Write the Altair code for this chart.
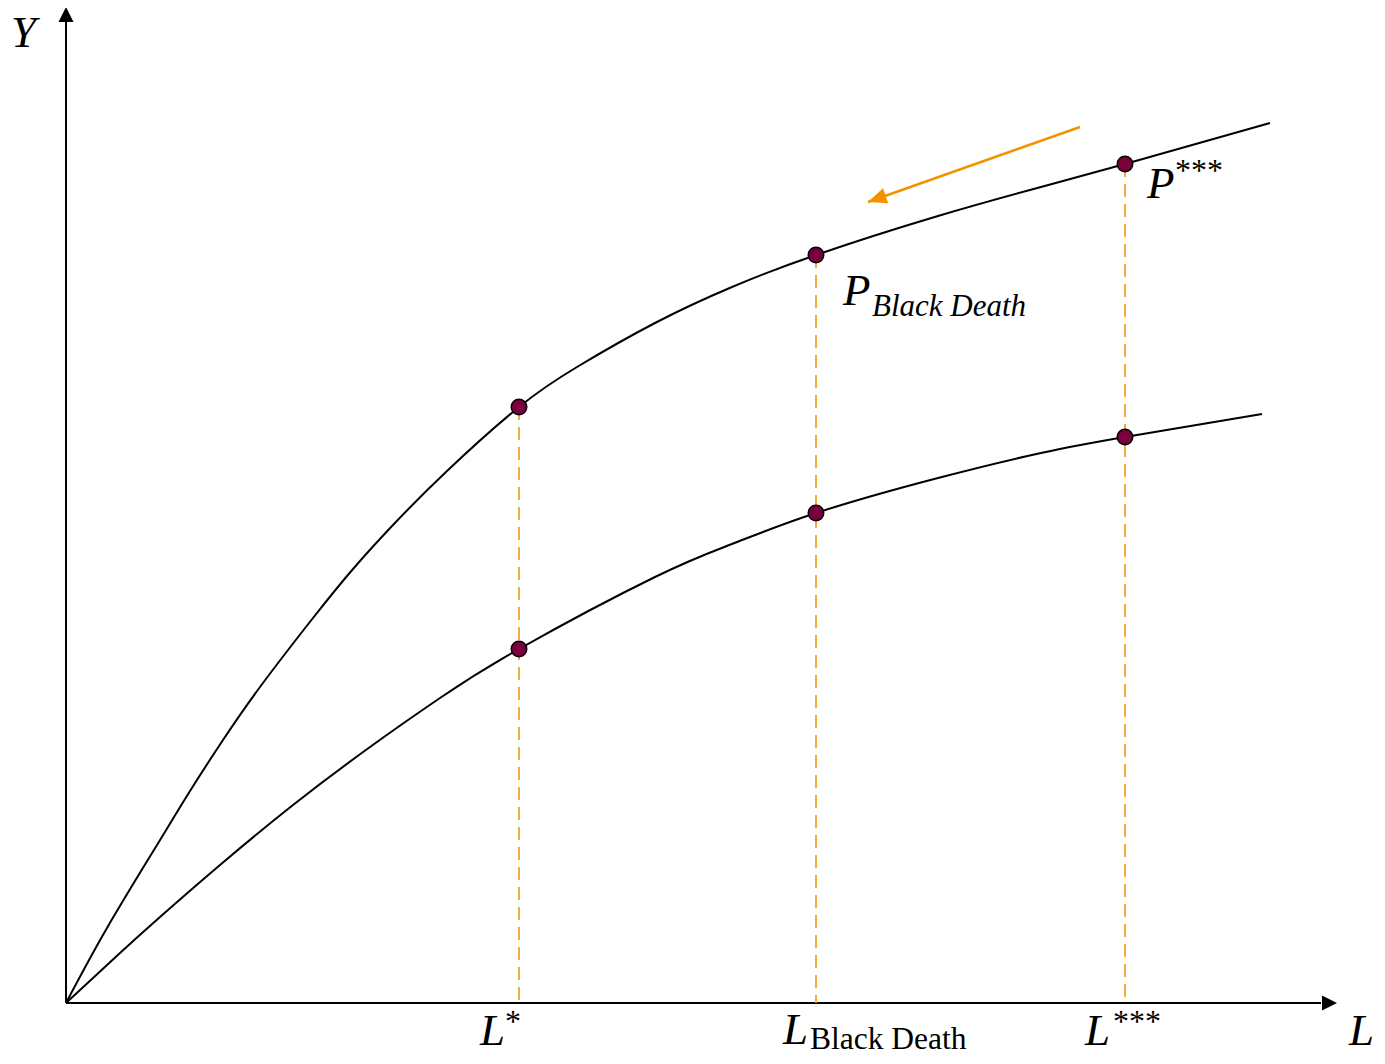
import altair as alt
import pandas as pd

# ---- data (L = labour, Y = output) ----
upper_L = [0, 0.41, 0.91, 1.24, 1.57, 1.94, 2.47, 2.87, 3.27, 3.81, 4.53, 5.11, 5.89, 6.66, 7.50, 8.72, 9.75, 10.59, 12.04]
upper_Y = [0, 0.75, 1.58, 2.12, 2.63, 3.16, 3.85, 4.34, 4.78, 5.32, 5.96, 6.36, 6.80, 7.16, 7.48, 7.87, 8.16, 8.39, 8.80]
lower_L = [0, 0.54, 0.94, 1.54, 2.27, 3.04, 3.74, 4.53, 5.89, 6.66, 7.50, 8.72, 9.75, 10.59, 11.96]
lower_Y = [0, 0.50, 0.86, 1.38, 1.98, 2.56, 3.05, 3.54, 4.26, 4.59, 4.90, 5.25, 5.50, 5.66, 5.89]

L_levels = [4.53, 7.50, 10.59]          # L*, L_Black Death, L***
upper_at = [5.96, 7.48, 8.39]
lower_at = [3.54, 4.90, 5.66]

arrow_L = [10.14, 8.02]
arrow_Y = [8.76, 8.01]

L_MAX = 12.71
Y_MAX = 9.96

FONT = "Liberation Serif"
ORANGE = "#F4A230"
ARROW = "#F39200"
DOT = "#7A003C"

xs = alt.Scale(domain=[-0.58, 13.11], nice=False, zero=False)
ys = alt.Scale(domain=[-0.53, 9.95], nice=False, zero=False)

def X(f="L"):
    return alt.X(f, type="quantitative", scale=xs, axis=None)

def Y(f="Y"):
    return alt.Y(f, type="quantitative", scale=ys, axis=None)

layers = []

# axes
axes_df = pd.DataFrame({"L": [0, 0], "Y": [0, 0], "L2": [0, L_MAX - 0.16], "Y2": [Y_MAX - 0.15, 0]})
layers.append(alt.Chart(axes_df).mark_rule(color="black", strokeWidth=2).encode(
    x=X(), y=Y(), x2="L2:Q", y2="Y2:Q"))

head_shape = "M0,0L0.5,1L-0.5,1Z"
layers.append(alt.Chart(pd.DataFrame({"L": [0], "Y": [Y_MAX]})).mark_point(
    shape=head_shape, size=900, filled=True, color="black", opacity=1, angle=0).encode(x=X(), y=Y()))
layers.append(alt.Chart(pd.DataFrame({"L": [L_MAX], "Y": [0]})).mark_point(
    shape=head_shape, size=900, filled=True, color="black", opacity=1, angle=90).encode(x=X(), y=Y()))

# dashed verticals
dash_df = pd.DataFrame({"L": L_levels, "Y": upper_at, "Y0": [0, 0, 0]})
layers.append(alt.Chart(dash_df).mark_rule(color=ORANGE, strokeWidth=1.8, strokeDash=[13, 7]).encode(
    x=X(), y=Y(), y2="Y0:Q"))

# curves
layers.append(alt.Chart(pd.DataFrame({"L": upper_L, "Y": upper_Y})).mark_line(
    color="black", strokeWidth=2, interpolate="natural").encode(x=X(), y=Y()))
layers.append(alt.Chart(pd.DataFrame({"L": lower_L, "Y": lower_Y})).mark_line(
    color="black", strokeWidth=2, interpolate="natural").encode(x=X(), y=Y()))

# dots
dots_df = pd.DataFrame({"L": L_levels + L_levels, "Y": upper_at + lower_at})
layers.append(alt.Chart(dots_df).mark_circle(
    size=240, color=DOT, opacity=1, stroke="black", strokeWidth=1.5).encode(x=X(), y=Y()))

# orange arrow
layers.append(alt.Chart(pd.DataFrame({"L": arrow_L, "Y": arrow_Y})).mark_line(
    color=ARROW, strokeWidth=2.5).encode(x=X(), y=Y()))
layers.append(alt.Chart(pd.DataFrame({"L": [arrow_L[1]], "Y": [arrow_Y[1]]})).mark_point(
    shape="M0,0L0.42,1L-0.42,1Z", size=1400, filled=True, color=ARROW, opacity=1, angle=250.5
).encode(x=X(), y=Y()))

def label(text, Lv, Yv, dx, dy, size, italic=True):
    df = pd.DataFrame({"L": [Lv], "Y": [Yv], "t": [text]})
    return alt.Chart(df).mark_text(
        font=FONT, fontSize=size, fontStyle="italic" if italic else "normal",
        align="left", baseline="alphabetic", dx=dx, dy=dy, color="black"
    ).encode(x=X(), y=Y(), text="t:N")

layers += [
    label("Y", 0, Y_MAX, -55, 40, 45),
    label("L", L_MAX, 0, 12, 42, 45),
    label("L", L_levels[0], 0, -39, 42, 45),
    label("*", L_levels[0], 0, -14, 29, 32, italic=False),
    label("L", L_levels[1], 0, -33, 41, 45),
    label("Black Death", L_levels[1], 0, -6, 46, 31.5, italic=False),
    label("L", L_levels[2], 0, -40, 42, 45),
    label("***", L_levels[2], 0, -12, 29, 32, italic=False),
    label("P", L_levels[2], upper_at[2], 22, 34, 45),
    label("***", L_levels[2], upper_at[2], 50, 17, 32, italic=False),
    label("P", L_levels[1], upper_at[1], 27, 50, 45),
    label("Black Death", L_levels[1], upper_at[1], 56, 61, 31),
]

chart = alt.layer(*layers).properties(
    width=1369, height=1048, padding=0,
    autosize=alt.AutoSizeParams(type="none"),
    background="white",
).configure_view(stroke=None)

chart.save("out.html", embed_options={"renderer": "svg", "actions": False})
